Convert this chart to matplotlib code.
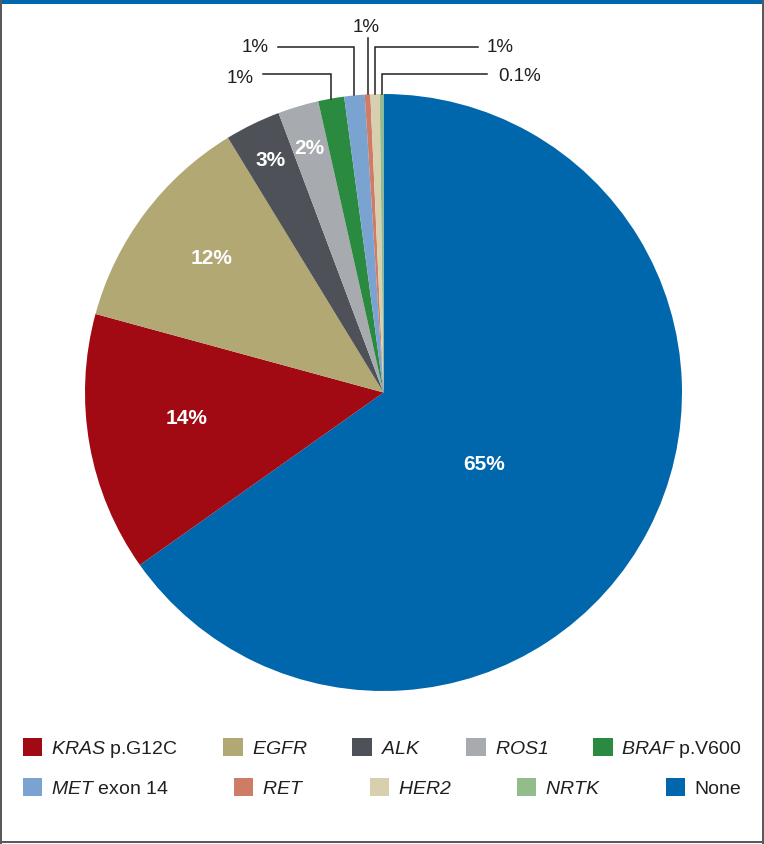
import numpy as np
import matplotlib
matplotlib.use("Agg")
import matplotlib.pyplot as plt
from matplotlib.patches import Rectangle, Patch

plt.rcParams["font.family"] = ["Liberation Sans", "DejaVu Sans"]
# gene names are italic, digits included, so both math fonts are italic
plt.rcParams["mathtext.fontset"] = "custom"
plt.rcParams["mathtext.it"] = "Liberation Sans:italic"
plt.rcParams["mathtext.rm"] = "Liberation Sans:italic"

# data (clockwise from 12 o'clock)
names = ["None", "KRAS", "EGFR", "ALK", "ROS1", "BRAF", "MET", "RET", "HER2", "NRTK"]
values = [65, 14, 12, 3, 2.2, 1.4, 1.1, 0.3, 0.5, 0.2]
labels = ["65%", "14%", "12%", "3%", "2%", "1%", "1%", "1%", "1%", "0.1%"]
colors = ["#0067AC", "#A10A12", "#B2A874", "#4E5157", "#A7AAAE",
          "#2A8A3F", "#7AA3D1", "#CE7C66", "#D8CFAF", "#93BC8B"]
legend_text = {
    "None": "None",
    "KRAS": r"$\mathit{KRAS}$ p.G12C",
    "EGFR": r"$\mathit{EGFR}$",
    "ALK": r"$\mathit{ALK}$",
    "ROS1": r"$\mathit{ROS1}$",
    "BRAF": r"$\mathit{BRAF}$ p.V600",
    "MET": r"$\mathit{MET}$ exon 14",
    "RET": r"$\mathit{RET}$",
    "HER2": r"$\mathit{HER2}$",
    "NRTK": r"$\mathit{NRTK}$",
}
row1 = ["KRAS", "EGFR", "ALK", "ROS1", "BRAF"]
row2 = ["MET", "RET", "HER2", "NRTK", "None"]

W, H = 764, 844
fig = plt.figure(figsize=(W / 100, H / 100), dpi=100)

# pie axes: centre (383.5, 392.5) px, radius 298.5 px
cx, cy, R = 383.5, 392.5, 298.5
ax = fig.add_axes([(cx - R) / W, (H - cy - R) / H, 2 * R / W, 2 * R / H])
wedges, _ = ax.pie(values, colors=colors, startangle=90, counterclock=False,
                   wedgeprops=dict(linewidth=0))
ax.set_xlim(-1, 1)
ax.set_ylim(-1, 1)
ax.axis("off")

# inner labels (radius, angle in degrees)
inner_pos = [(0.413, -35.5), (0.664, 187.5), (0.729, 142), (0.865, 116), (0.855, 107)]
for i, (r, a) in enumerate(inner_pos):
    t = np.deg2rad(a)
    ax.text(r * np.cos(t), r * np.sin(t), labels[i], color="white",
            fontsize=15, fontweight="bold", ha="center", va="center")

# outer labels with leader lines: (line level y, horizontal end x, text x, text y, ha)
outer = {
    5: (1.067, -0.404, -0.435, 1.052, "right"),
    6: (1.157, -0.353, -0.385, 1.157, "right"),
    7: (1.188, None, -0.059, 1.222, "center"),
    8: (1.157, 0.317, 0.347, 1.157, "left"),
    9: (1.067, 0.347, 0.384, 1.060, "left"),
}
for i, (ly, lx, tx, ty, ha) in outer.items():
    w = wedges[i]
    mid = np.deg2rad((w.theta1 + w.theta2) / 2)
    x0 = np.cos(mid)
    y0 = np.sin(mid)
    if lx is None:
        xs, ys = [x0, x0], [y0, ly]
    else:
        xs, ys = [x0, x0, lx], [y0, ly, ly]
    ax.plot(xs, ys, color="#231F20", lw=1.1, clip_on=False, solid_joinstyle="miter")
    ax.text(tx, ty, labels[i], color="#231F20", fontsize=13.5, ha=ha, va="center")

# legend, two rows
col = dict(zip(names, colors))
for keys, x0, x1, yc in [(row1, 23, 742, 749), (row2, 23, 741, 788)]:
    handles = [Patch(facecolor=col[k], edgecolor="none") for k in keys]
    fig.legend(handles, [legend_text[k] for k in keys], ncol=5, mode="expand",
               loc="center left", frameon=False, borderpad=0, borderaxespad=0,
               bbox_to_anchor=(x0 / W, 1 - yc / H, (x1 - x0) / W, 0),
               fontsize=14, handlelength=1.0, handleheight=1.0,
               handletextpad=0.45, labelcolor="#231F20")

# frame: blue top bar, grey border
fig.add_artist(Rectangle((0, 1 - 4 / H), 1, 4 / H, transform=fig.transFigure,
                         facecolor="#0067AC", edgecolor="none"))
grey = "#5A5A5A"
fig.add_artist(Rectangle((0, 0), 1.5 / W, 1, transform=fig.transFigure,
                         facecolor=grey, edgecolor="none"))
fig.add_artist(Rectangle((1 - 2 / W, 0), 2 / W, 1, transform=fig.transFigure,
                         facecolor=grey, edgecolor="none"))
fig.add_artist(Rectangle((0, 1 / H), 1, 2.5 / H, transform=fig.transFigure,
                         facecolor=grey, edgecolor="none"))

fig.savefig("out.png", dpi=100)
